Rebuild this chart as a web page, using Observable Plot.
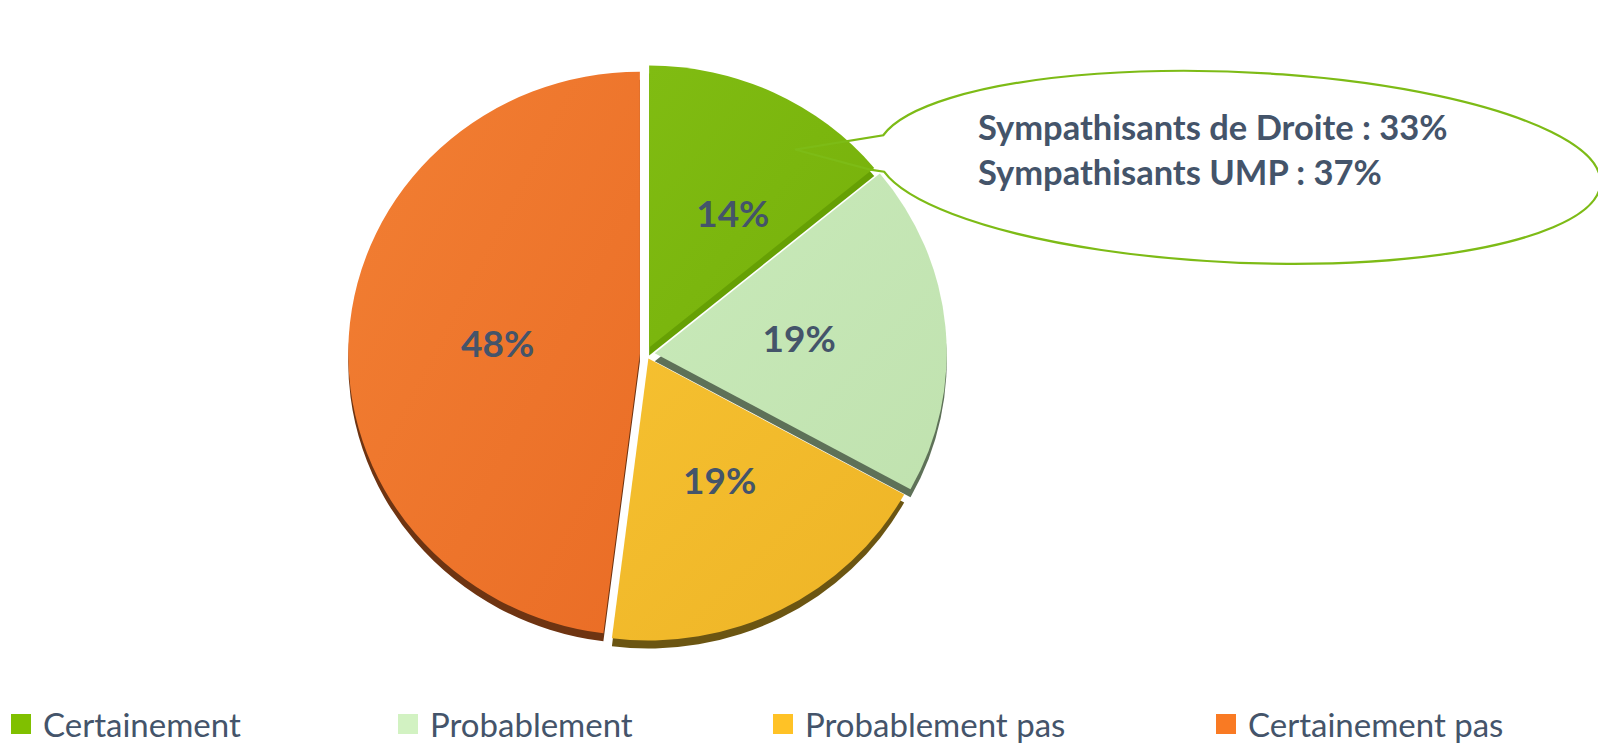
<!DOCTYPE html>
<html><head><meta charset="utf-8">
<script src="https://cdn.jsdelivr.net/npm/d3@7"></script>
<script src="https://cdn.jsdelivr.net/npm/@observablehq/plot@0.6"></script>
<style>
body{margin:0;background:#fff;font-family:Lato, "Open Sans", sans-serif;}
#chart{position:relative;width:1598px;height:744px;overflow:hidden;}
#legend{position:absolute;left:0;top:700px;width:1598px;height:44px;}
.item{position:absolute;top:6px;display:flex;align-items:center;height:36px;font-size:33px;line-height:1;color:#44546a;white-space:nowrap;}
.sw{width:20px;height:20px;margin-right:12px;flex:none;}
</style></head><body><div id="chart"></div>
<script>
// ---- data ----
const categories = ["Certainement", "Probablement", "Probablement pas", "Certainement pas"];
const values = [14, 19, 19, 48];
const labels = ["14%", "19%", "19%", "48%"];
const calloutLines = ["Sympathisants de Droite : 33%", "Sympathisants UMP : 37%"];

// ---- styles / layout ----
const topColors = [["#80bc12", "#76b00a"], ["#c9eaba", "#c0e2af"], ["#f5c030", "#eeb426"], ["#f27f33", "#ea6d26"]];
const sideColors = ["#66a004", "#5e7158", "#6b5512", "#6e3412"];
const legendColors = ["#80c000", "#d2f2c2", "#ffc226", "#f97a23"];
const explode = [0.025, 0.03, 0.018, 0.021];
const labelR = [0.55, 0.495, 0.5, 0.49];
const labelShift = [6, 0, -2, 0];
const legendLeft = [11, 398, 773, 1216];
const depth = 8;
const textColor = "#44546a";
const callout = {cx: 2.03, cy: 0.662, rx: 1.24, ry: 0.338, rot: 2.5, tipX: 0.51, tipY: 0.725, t1: 190, t2: 168, textX: 1.135, textY: 0.80, step: 0.158};

const rad = Math.PI / 180;
const pie = d3.pie().sort(null).value(d => d)(values);
const rows = pie.map((p, i) => {
  const mid = (p.startAngle + p.endAngle) / 2;
  const ox = explode[i] * Math.sin(mid), oy = explode[i] * Math.cos(mid);
  const la = mid + labelShift[i] * rad;
  return {
    category: categories[i], value: values[i], label: labels[i],
    start: p.startAngle, end: p.endAngle, ox, oy,
    lx: ox + labelR[i] * Math.sin(la), ly: oy + labelR[i] * Math.cos(la), i
  };
});
const calloutRows = calloutLines.map((t, i) => ({text: t, x: callout.textX, y: callout.textY - i * callout.step}));

function pieMark(index, scales) {
  const {x, y} = scales;
  const rx = x(1) - x(0), ry = y(0) - y(1);
  const g = d3.create("svg:g");
  const defs = g.append("defs");
  rows.forEach(d => {
    const lg = defs.append("linearGradient").attr("id", "grad" + d.i)
      .attr("x1", 0).attr("y1", 0).attr("x2", 1).attr("y2", 1);
    lg.append("stop").attr("offset", 0).attr("stop-color", topColors[d.i][0]);
    lg.append("stop").attr("offset", 1).attr("stop-color", topColors[d.i][1]);
  });
  const arc = d3.arc().innerRadius(0).outerRadius(1);
  for (const layer of ["side", "top"]) {
    for (const d of rows) {
      g.append("path")
        .attr("d", arc({startAngle: d.start, endAngle: d.end}))
        .attr("transform", `translate(${x(d.ox)},${y(d.oy) + (layer === "side" ? depth : 0)}) scale(${rx},${ry})`)
        .attr("fill", layer === "side" ? sideColors[d.i] : `url(#grad${d.i})`);
    }
  }
  // callout bubble (slightly rotated ellipse with a pointer)
  const ecx = x(callout.cx), ecy = y(callout.cy);
  const erx = callout.rx * rx, ery = callout.ry * ry;
  const c = Math.cos(callout.rot * rad), s = Math.sin(callout.rot * rad);
  const pt = t => {
    const lx = erx * Math.cos(t * rad), ly = ery * Math.sin(t * rad);
    return [ecx + lx * c - ly * s, ecy + lx * s + ly * c];
  };
  const p1 = pt(callout.t1), p2 = pt(callout.t2);
  const tip = [x(callout.tipX), y(callout.tipY)];
  g.append("path")
    .attr("d", `M${p1}A${erx},${ery} ${callout.rot} 1 1 ${p2}L${p2[0] - 14},${p2[1] - 2}L${tip}Z`)
    .attr("fill", "none").attr("stroke", "#7dbb16").attr("stroke-width", 2.2)
    .attr("stroke-linejoin", "miter");
  return g.node();
}

const chart = Plot.plot({
  width: 1598, height: 700,
  margin: 0,
  x: {domain: [-1, 1], range: [354, 938], axis: null},
  y: {domain: [-1, 1], range: [636, 72], axis: null},
  style: {background: "#fff", fontFamily: "Lato, 'Open Sans', sans-serif", overflow: "visible"},
  marks: [
    pieMark,
    Plot.text(rows, {x: "lx", y: "ly", text: "label", fontSize: 37, fontWeight: "bold", fill: textColor}),
    Plot.text(calloutRows, {x: "x", y: "y", text: "text", textAnchor: "start", fontSize: 34.5, fontWeight: "bold", fill: textColor})
  ]
});
const root = document.getElementById("chart");
root.appendChild(chart);
const legend = document.createElement("div");
legend.id = "legend";
categories.forEach((c, i) => {
  const it = document.createElement("div");
  it.className = "item";
  it.style.left = legendLeft[i] + "px";
  it.innerHTML = `<span class="sw" style="background:${legendColors[i]}"></span><span>${c}</span>`;
  legend.appendChild(it);
});
root.appendChild(legend);
</script></body></html>
